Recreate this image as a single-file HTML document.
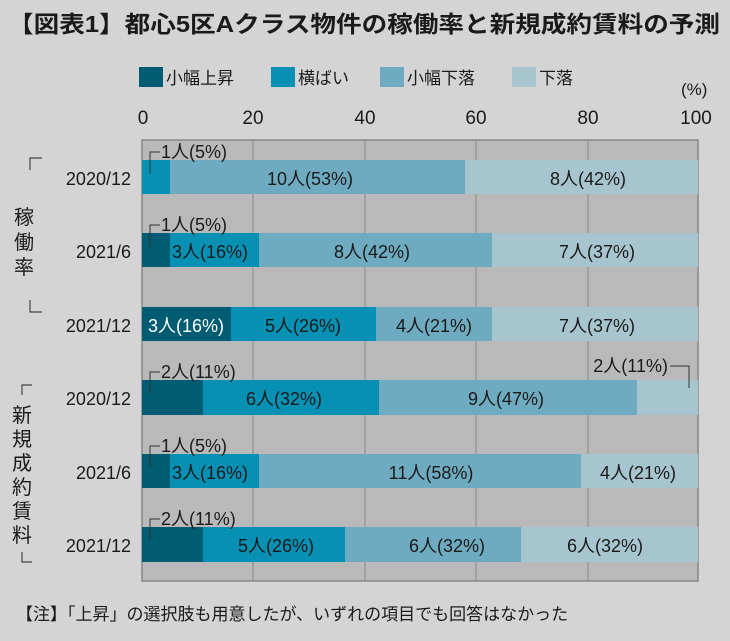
<!DOCTYPE html>
<html><head><meta charset="utf-8"><style>
body{margin:0;background:#d4d4d4;}
text{font-family:"Liberation Sans","Noto Sans CJK JP",sans-serif;fill:#1a1a1a;}
</style></head><body>
<svg width="730" height="636" xmlns="http://www.w3.org/2000/svg">
<rect width="730" height="636" fill="#d4d4d4"/>
<text x="8" y="32" font-size="23" font-weight="bold" textLength="712" lengthAdjust="spacingAndGlyphs">【図表1】都心5区Aクラス物件の稼働率と新規成約賃料の予測</text>
<rect x="139" y="67" width="24" height="20" fill="#005c72"/><text x="166" y="84" font-size="17">小幅上昇</text>
<rect x="271" y="67" width="24" height="20" fill="#0690b4"/><text x="298" y="84" font-size="17">横ばい</text>
<rect x="380" y="67" width="24" height="20" fill="#6eaac0"/><text x="407" y="84" font-size="17">小幅下落</text>
<rect x="512" y="67" width="24" height="20" fill="#a7c5cf"/><text x="539" y="84" font-size="17">下落</text>
<text x="681" y="95" font-size="17">(%)</text>
<g font-size="19" text-anchor="middle">
<text x="143" y="124">0</text><text x="253" y="124">20</text><text x="365" y="124">40</text><text x="476" y="124">60</text><text x="588" y="124">80</text><text x="696" y="124">100</text>
</g>
<rect x="142" y="140" width="556" height="441" fill="#b9b9b9" stroke="#888" stroke-width="1.5"/>
<g stroke="#8a8a8a" stroke-width="1">
<line x1="253" y1="140" x2="253" y2="581"/><line x1="365" y1="140" x2="365" y2="581"/><line x1="476" y1="140" x2="476" y2="581"/><line x1="588" y1="140" x2="588" y2="581"/>
</g>
<g>
<rect x="142" y="160" width="28" height="34" fill="#0690b4"/>
<rect x="170" y="160" width="295" height="34" fill="#6eaac0"/>
<rect x="465" y="160" width="233" height="34" fill="#a7c5cf"/>
<rect x="142" y="233" width="28" height="34" fill="#005c72"/>
<rect x="170" y="233" width="89" height="34" fill="#0690b4"/>
<rect x="259" y="233" width="233" height="34" fill="#6eaac0"/>
<rect x="492" y="233" width="206" height="34" fill="#a7c5cf"/>
<rect x="142" y="307" width="89" height="34" fill="#005c72"/>
<rect x="231" y="307" width="145" height="34" fill="#0690b4"/>
<rect x="376" y="307" width="116" height="34" fill="#6eaac0"/>
<rect x="492" y="307" width="206" height="34" fill="#a7c5cf"/>
<rect x="142" y="380" width="61" height="35" fill="#005c72"/>
<rect x="203" y="380" width="176" height="35" fill="#0690b4"/>
<rect x="379" y="380" width="258" height="35" fill="#6eaac0"/>
<rect x="637" y="380" width="61" height="35" fill="#a7c5cf"/>
<rect x="142" y="454" width="28" height="34" fill="#005c72"/>
<rect x="170" y="454" width="89" height="34" fill="#0690b4"/>
<rect x="259" y="454" width="322" height="34" fill="#6eaac0"/>
<rect x="581" y="454" width="117" height="34" fill="#a7c5cf"/>
<rect x="142" y="527" width="61" height="35" fill="#005c72"/>
<rect x="203" y="527" width="142" height="35" fill="#0690b4"/>
<rect x="345" y="527" width="176" height="35" fill="#6eaac0"/>
<rect x="521" y="527" width="177" height="35" fill="#a7c5cf"/>
</g>
<g font-size="18" text-anchor="middle">
<text x="310" y="185">10人(53%)</text><text x="588" y="185">8人(42%)</text>
<text x="210" y="258">3人(16%)</text><text x="372" y="258">8人(42%)</text><text x="597" y="258">7人(37%)</text>
<text x="186" y="332" style="fill:#fff">3人(16%)</text><text x="303" y="332">5人(26%)</text><text x="434" y="332">4人(21%)</text><text x="597" y="332">7人(37%)</text>
<text x="284" y="405">6人(32%)</text><text x="506" y="405">9人(47%)</text>
<text x="210" y="479">3人(16%)</text><text x="431" y="479">11人(58%)</text><text x="638" y="479">4人(21%)</text>
<text x="276" y="552">5人(26%)</text><text x="447" y="552">6人(32%)</text><text x="605" y="552">6人(32%)</text>
</g>
<g fill="none" stroke="#333" stroke-width="1">
<path d="M150,174 V152 H160"/><path d="M150,247 V225 H160"/><path d="M150,394 V372 H160"/><path d="M150,468 V446 H160"/><path d="M150,541 V519 H160"/>
<path d="M670,366 H689 V388"/>
</g>
<g font-size="18">
<text x="161" y="158">1人(5%)</text><text x="161" y="231">1人(5%)</text><text x="161" y="378">2人(11%)</text><text x="161" y="452">1人(5%)</text><text x="161" y="525">2人(11%)</text>
<text x="668" y="372" text-anchor="end">2人(11%)</text>
</g>
<g font-size="18" text-anchor="end">
<text x="131" y="185">2020/12</text><text x="131" y="258">2021/6</text><text x="131" y="332">2021/12</text>
<text x="131" y="405">2020/12</text><text x="131" y="479">2021/6</text><text x="131" y="552">2021/12</text>
</g>
<g fill="none" stroke="#444" stroke-width="1.2">
<path d="M30,170 V158 H42"/><path d="M30,300 V312 H42"/>
<path d="M22,395 V385 H32"/><path d="M22,552 V562 H32"/>
</g>
<g font-size="20" text-anchor="middle">
<text x="24" y="224">稼</text><text x="24" y="249">働</text><text x="24" y="274">率</text>
<text x="22" y="422">新</text><text x="22" y="446">規</text><text x="22" y="470">成</text><text x="22" y="494">約</text><text x="22" y="518">賃</text><text x="22" y="542">料</text>
</g>
<text x="16" y="620" font-size="17">【注】「上昇」の選択肢も用意したが、いずれの項目でも回答はなかった</text>
</svg>
</body></html>
